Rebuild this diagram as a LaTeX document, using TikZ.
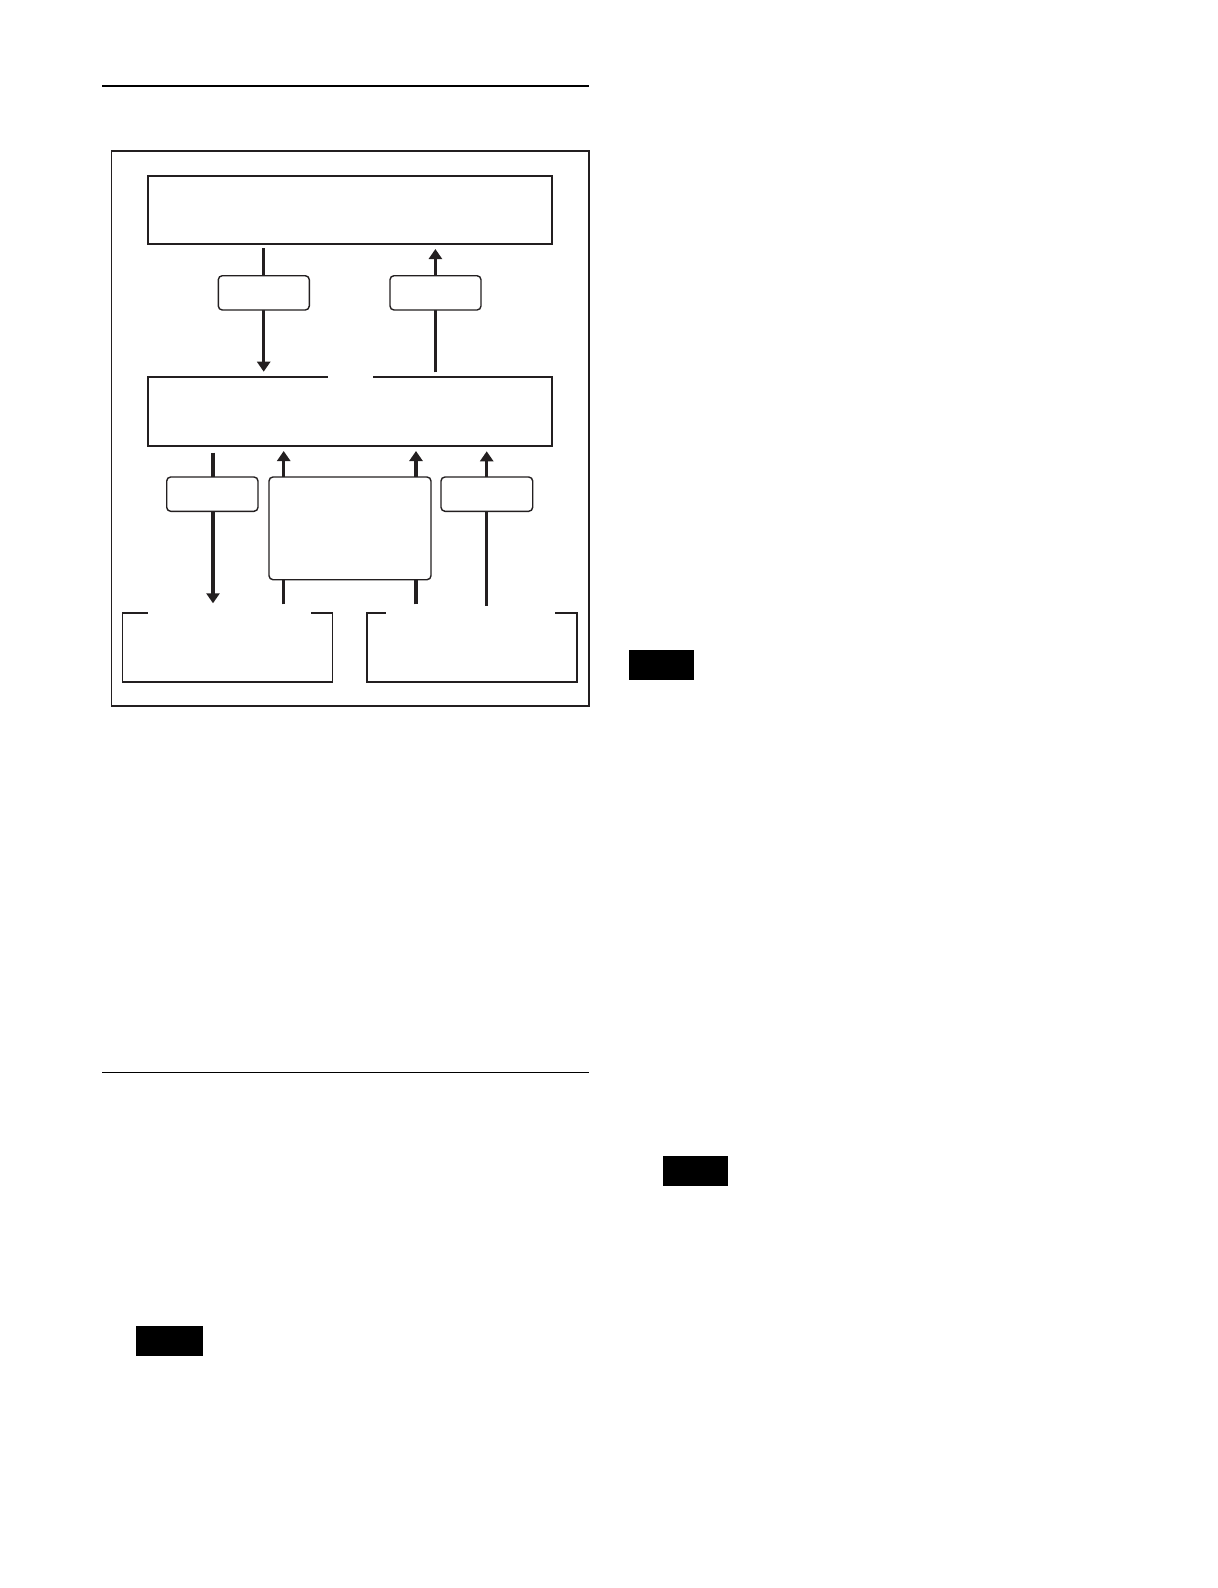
\documentclass[tikz,border=0pt]{standalone}
\usetikzlibrary{arrows.meta,calc}
\definecolor{ink}{HTML}{231F20}
\begin{document}
\begin{tikzpicture}[x=1pt,y=-1pt,
  bigbox/.style={draw=ink,line width=2pt,fill=white,inner sep=0pt,outer sep=0pt},
  ghost/.style={inner sep=0pt,outer sep=0pt},
  boxline/.style={draw=ink,line width=2pt},
  brline/.style={draw=ink,line width=1.6pt},
  smallbox/.style={draw=ink,line width=1.4pt,fill=white,rounded corners=4pt,inner sep=0pt,outer sep=0pt},
  arr/.style={draw=ink,line width=3.3pt,-{Triangle[length=10pt,width=13pt]}},
  rulel/.style={draw=black,line width=1.5pt},
  tab/.style={fill=black,inner sep=0pt,outer sep=0pt}]
\useasboundingbox (0,0) rectangle (1218,1588);

% rules
\coordinate (r1a) at (102,86);
\coordinate (r1b) at (589,86);
\coordinate (r2a) at (102,1072.3);
\coordinate (r2b) at (589,1072.3);
\draw[rulel] (r1a) -- (r1b);
\draw[rulel] (r2a) -- (r2b);

% outer frame
\node[ghost, draw=ink, line width=1.2pt, minimum width=477.3pt, minimum height=555pt] (frame) at (350.35,428.5) {};

% main boxes
\node[bigbox, minimum width=404.6pt, minimum height=68pt] (top) at (350,209.7) {};
\node[ghost, minimum width=404.6pt, minimum height=68.7pt] (mid) at (350,411.65) {};
\draw[boxline] ($(mid.north)+(-22.3,0)$) -| (mid.south west) -| (mid.north east) -- ($(mid.north)+(23.3,0)$);

% bracket boxes
\node[ghost, minimum width=210pt, minimum height=68.7pt] (bl) at (227.3,647.35) {};
\node[ghost, minimum width=210pt, minimum height=68.7pt] (br) at (472,647.35) {};
\draw[brline] ($(bl.north west)+(25.4,0)$) -- (bl.north west) |- (bl.south east) -- (bl.north east) -- ++(-21.3,0);
\draw[brline] ($(br.north west)+(18.7,0)$) -- (br.north west) |- (br.south east) -- (br.north east) -- ++(-22,0);

% column coordinates
\coordinate (c1) at (263.7,0);
\coordinate (c2) at (435.4,0);
\coordinate (c3) at (213,0);
\coordinate (c4) at (283.7,0);
\coordinate (c5) at (416,0);
\coordinate (c6) at (486.7,0);

% arrows (drawn beneath the small boxes)
\draw[arr] ([yshift=-4.3pt]top.south -| c1) -- ([yshift=5.6pt]mid.north -| c1);
\draw[arr] ([yshift=5pt]mid.north -| c2) -- ([yshift=-5.3pt]top.south -| c2);
\draw[arr] ([yshift=-6.6pt]mid.south -| c3) -- ([yshift=9.7pt]bl.north -| c3);
\draw[arr] ([yshift=8.7pt]bl.north -| c4) -- ([yshift=-5pt]mid.south -| c4);
\draw[arr] ([yshift=8.7pt]br.north -| c5) -- ([yshift=-5pt]mid.south -| c5);
\draw[arr] ([yshift=7.3pt]br.north -| c6) -- ([yshift=-5.3pt]mid.south -| c6);

% small rounded boxes
\node[smallbox, minimum width=91pt, minimum height=34.3pt] (sb1) at (263.8,292.85) {};
\node[smallbox, minimum width=91pt, minimum height=34.3pt] (sb2) at (435.5,292.85) {};
\node[smallbox, minimum width=91.3pt, minimum height=34.3pt] (sb3) at (212.35,494.15) {};
\node[smallbox, minimum width=162pt, minimum height=102.7pt] (bigr) at (350,528.35) {};
\node[smallbox, minimum width=91.7pt, minimum height=34.3pt] (sb4) at (486.85,494.15) {};

% black tabs
\node[tab, minimum width=65pt, minimum height=30pt] (t1) at (661.5,665) {};
\node[tab, minimum width=65pt, minimum height=29.7pt] (t2) at (695.5,1170.85) {};
\node[tab, minimum width=67pt, minimum height=29.7pt] (t3) at (169.5,1340.85) {};
\end{tikzpicture}
\end{document}
